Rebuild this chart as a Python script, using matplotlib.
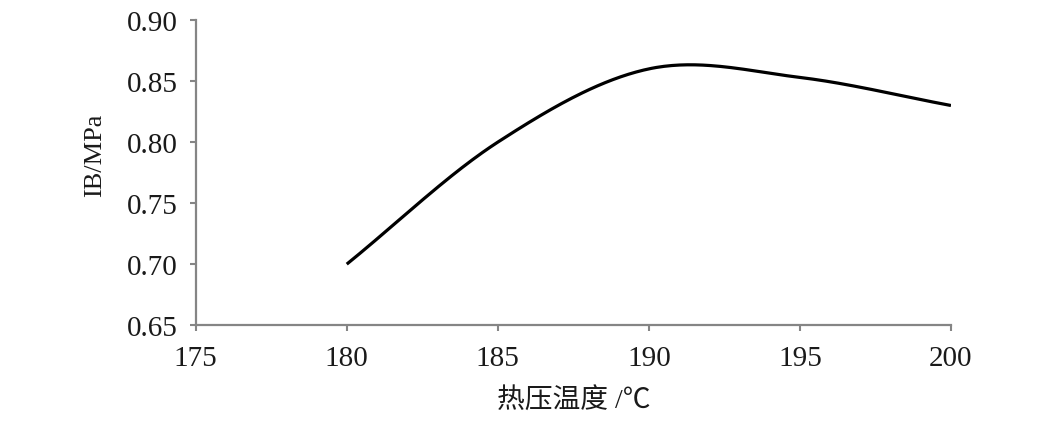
import numpy as np
import matplotlib
matplotlib.use("Agg")
import matplotlib.pyplot as plt

# data
temps = [180, 185, 190, 195, 200]
ib_values = [0.70, 0.80, 0.86, 0.853, 0.83]
x_ticks = [175, 180, 185, 190, 195, 200]
y_ticks = [0.65, 0.70, 0.75, 0.80, 0.85, 0.90]


def smooth_curve(xs, ys, n=60):
    # Catmull-Rom style smoothing, like a spreadsheet "smoothed line"
    xs = np.asarray(xs, float)
    ys = np.asarray(ys, float)
    px = np.concatenate([[2 * xs[0] - xs[1]], xs, [2 * xs[-1] - xs[-2]]])
    py = np.concatenate([[2 * ys[0] - ys[1]], ys, [2 * ys[-1] - ys[-2]]])
    out_x, out_y = [], []
    t = np.linspace(0, 1, n)
    for i in range(1, len(px) - 2):
        for arr, out in ((px, out_x), (py, out_y)):
            p0, p1, p2, p3 = arr[i - 1], arr[i], arr[i + 1], arr[i + 2]
            seg = 0.5 * ((2 * p1) + (-p0 + p2) * t
                         + (2 * p0 - 5 * p1 + 4 * p2 - p3) * t ** 2
                         + (-p0 + 3 * p1 - 3 * p2 + p3) * t ** 3)
            out.extend(seg)
    return np.array(out_x), np.array(out_y)


plt.rcParams['font.family'] = ['Liberation Serif', 'Noto Sans CJK SC']

fig = plt.figure(figsize=(10.41, 4.39), dpi=100)
ax = fig.add_axes([0.188, 0.257, 0.7255, 0.695])

sx, sy = smooth_curve(temps, ib_values)
ax.plot(sx, sy, color='black', lw=2.3, solid_capstyle='butt')

ax.set_xlim(175, 200)
ax.set_ylim(0.65, 0.90)
ax.set_xticks(x_ticks)
ax.set_yticks(y_ticks)
ax.set_yticklabels([f"{v:.2f}" for v in y_ticks])

gray = '#858585'
for side in ['top', 'right']:
    ax.spines[side].set_visible(False)
for side in ['left', 'bottom']:
    ax.spines[side].set_color(gray)
    ax.spines[side].set_linewidth(1.6)
ax.tick_params(axis='both', direction='out', length=4, width=1.5, color=gray,
               labelsize=21, labelcolor='#1a1a1a')
ax.tick_params(axis='y', pad=9)
ax.tick_params(axis='x', pad=10)

ax.set_xlabel('热压温度 /℃', fontsize=20, color='#1a1a1a', labelpad=12)
ax.set_ylabel('IB/MPa', fontsize=19, color='#1a1a1a')
ax.yaxis.set_label_coords(-0.118, 0.56)

fig.savefig('out.png', dpi=100)
